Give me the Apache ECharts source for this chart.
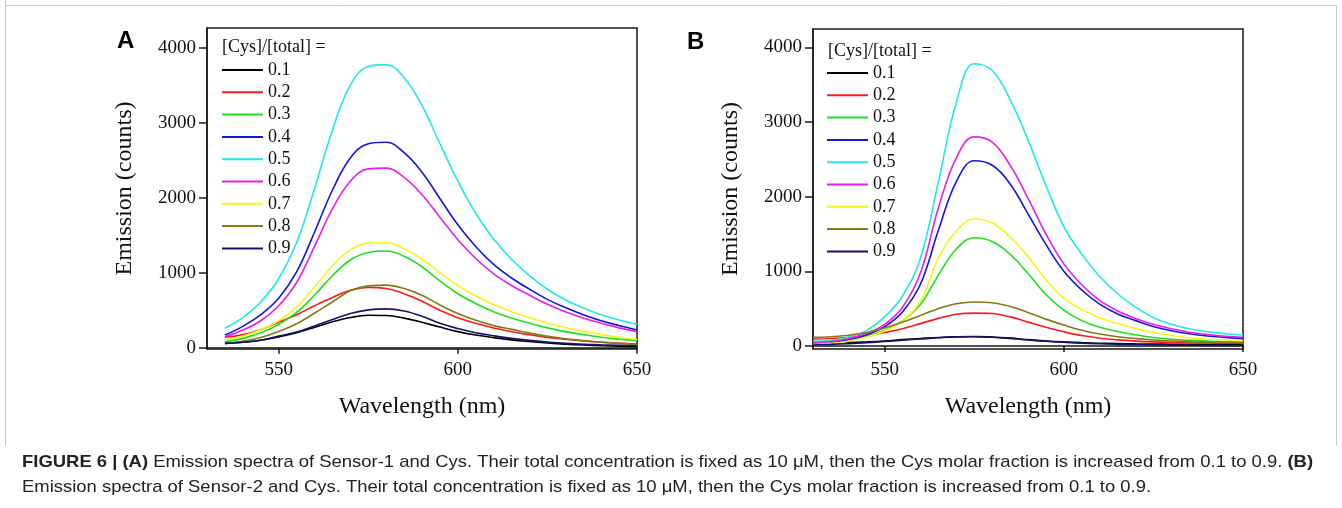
<!DOCTYPE html>
<html>
<head>
<meta charset="utf-8">
<script src="https://cdn.jsdelivr.net/npm/echarts@6/dist/echarts.min.js"></script>
<style>
html,body{margin:0;padding:0;background:#fff;}
#c{width:1342px;height:508px;}
</style>
</head>
<body>
<div id="c"></div>
<script>
// ---- data ----
const names = ['0.1','0.2','0.3','0.4','0.5','0.6','0.7','0.8','0.9'];
const colors = ['#000000','#ff1a1a','#1ee01e','#1414e0','#1ee8e8','#e61ee6','#f5f51a','#857a14','#141470'];
const xTicks = [550, 600, 650];
const yTicks = [0, 1000, 2000, 3000, 4000];

// Panel A (Sensor-1), wavelengths 535..650 nm
const wlA = [535,540,545,550,555,560,565,570,575,580,585,590,595,600,605,610,615,620,625,630,635,640,645,650];
const A01 = [58,72,100,145,200,270,345,402,433,430,395,340,275,215,170,135,105,82,62,48,36,27,19,13];
const A02 = [139,175,240,340,440,560,670,765,805,790,720,620,500,400,325,262,212,172,138,112,90,73,59,49];
const A03 = [80,125,200,310,470,700,960,1170,1270,1289,1220,1080,890,720,590,480,395,325,265,215,175,140,115,93];
const A04 = [170,285,440,660,1010,1540,2100,2530,2720,2740,2600,2340,1990,1640,1350,1110,930,780,645,535,440,360,295,236];
const A05 = [260,400,610,920,1400,2120,2900,3500,3750,3775,3600,3230,2720,2220,1790,1450,1180,960,780,640,530,440,370,310];
const A06 = [147,235,360,560,870,1350,1850,2220,2385,2395,2270,2040,1740,1440,1190,985,830,700,580,480,395,325,265,213];
const A07 = [103,155,240,360,540,810,1090,1305,1395,1400,1320,1180,1000,830,690,575,480,400,330,270,220,175,140,112];
const A08 = [58,85,135,215,320,460,610,760,825,835,790,700,570,455,365,295,245,195,155,120,95,75,58,45];
const A09 = [58,75,100,155,210,290,375,455,505,518,490,420,325,255,200,160,125,98,77,60,47,38,32,27];

// Panel B (Sensor-2), wavelengths 530..650 nm
const wlB = [530,535,540,545,550,555,560,565,570,575,580,585,590,595,600,605,610,615,620,625,630,635,640,645,650];
const B01 = [27,35,45,55,68,85,100,115,125,128,120,105,85,68,55,45,38,33,29,26,24,22,21,20,19];
const B02 = [90,100,115,140,180,230,300,370,425,440,435,390,320,250,190,140,105,82,66,55,48,43,40,38,36];
const B03 = [60,65,90,130,210,340,560,950,1300,1450,1400,1230,970,690,480,340,250,195,150,115,90,75,65,58,54];
const B04 = [30,45,80,150,260,460,830,1550,2200,2480,2420,2170,1770,1360,1000,750,560,430,340,260,205,165,135,115,98];
const B05 = [58,75,120,210,390,670,1180,2200,3260,3780,3690,3300,2760,2150,1600,1230,930,700,520,380,290,230,190,165,147];
const B06 = [45,60,100,170,290,520,980,1850,2520,2800,2730,2420,1980,1500,1100,820,610,470,370,290,230,185,155,130,116];
const B07 = [20,35,65,120,200,340,600,1180,1540,1700,1650,1460,1200,890,640,490,380,300,235,180,140,110,90,80,71];
const B08 = [116,125,145,180,240,320,410,500,565,590,580,530,450,360,280,210,160,125,100,80,68,58,52,48,45];
const B09 = [14,22,32,45,60,78,95,110,122,125,118,102,82,64,50,38,30,24,19,15,12,10,9,8,7];

const seriesA = [A01,A02,A03,A04,A05,A06,A07,A08,A09];
const seriesB = [B01,B02,B03,B04,B05,B06,B07,B08,B09];

// ---- chart ----
const serif = 'Liberation Serif, Times New Roman, serif';
const capFont = '"Liberation Sans", Arial, sans-serif';
const frameColor = '#1a1a1a';

function pairs(xs, ys){ return xs.map((x,i)=>[x, ys[i]]); }

function xAxisOpt(idx){
  return {
    type:'value', gridIndex: idx, min:530, max:650,
    name:'Wavelength (nm)', nameLocation:'middle', nameGap:46,
    nameTextStyle:{fontFamily:serif, fontSize:24, color:'#111'},
    axisLine:{show:true, lineStyle:{color:frameColor, width:1.5}},
    axisTick:{show:true, inside:false, length:6, customValues:xTicks, lineStyle:{color:frameColor, width:1.5}},
    axisLabel:{show:true, margin:12, fontFamily:serif, fontSize:19, color:'#111', customValues:xTicks,
      formatter:(v)=>String(v)},
    splitLine:{show:false}
  };
}
function yAxisOpt(idx, min, max){
  return {
    type:'value', gridIndex: idx, min:min, max:max,
    name:'Emission (counts)', nameLocation:'middle', nameGap:70,
    nameTextStyle:{fontFamily:serif, fontSize:24, color:'#111'},
    axisLine:{show:true, lineStyle:{color:frameColor, width:1.5}},
    axisTick:{show:true, inside:false, length:8, customValues:yTicks, lineStyle:{color:frameColor, width:1.5}},
    axisLabel:{show:true, margin:11, fontFamily:serif, fontSize:19, color:'#111', customValues:yTicks,
      formatter:(v)=>String(v)},
    splitLine:{show:false}
  };
}

const series = [];
seriesA.forEach((d,i)=>{
  series.push({type:'line', name:names[i], xAxisIndex:0, yAxisIndex:0, data:pairs(wlA,d),
    smooth:0.4, symbol:'none', lineStyle:{width:1.6, color:colors[i]}, itemStyle:{color:colors[i]}, z:2+i});
});
seriesB.forEach((d,i)=>{
  series.push({type:'line', name:names[i], xAxisIndex:1, yAxisIndex:1, data:pairs(wlB,d),
    smooth:0.4, symbol:'none', lineStyle:{width:1.6, color:colors[i]}, itemStyle:{color:colors[i]}, z:2+i});
});

function legendOpt(left, top){
  return {
    orient:'vertical', left:left, top:top, padding:0, itemGap:4.3,
    itemWidth:41, itemHeight:2, icon:'rect',
    textStyle:{fontFamily:serif, fontSize:18, color:'#111', lineHeight:17},
    data:names, selectedMode:false
  };
}

const chart = echarts.init(document.getElementById('c'), null, {renderer:'canvas'});
chart.setOption({
  backgroundColor:'#ffffff',
  animation:false,
  grid:[
    {left:207, top:28, width:430, height:321, show:true, borderColor:frameColor, borderWidth:1.5, backgroundColor:'transparent'},
    {left:813, top:29, width:430, height:320, show:true, borderColor:frameColor, borderWidth:1.5, backgroundColor:'transparent'}
  ],
  xAxis:[xAxisOpt(0), xAxisOpt(1)],
  yAxis:[yAxisOpt(0,-17,4263), yAxisOpt(1,-40,4245)],
  legend:[legendOpt(222,61), legendOpt(827,64)],
  series:series,
  graphic:[
    {type:'line', shape:{x1:5.5,y1:0,x2:5.5,y2:446}, style:{stroke:'#c8c8c8', lineWidth:1}, silent:true},
    {type:'line', shape:{x1:5.5,y1:5.5,x2:1336.5,y2:5.5}, style:{stroke:'#c8c8c8', lineWidth:1}, silent:true},
    {type:'line', shape:{x1:1336.5,y1:5.5,x2:1336.5,y2:446}, style:{stroke:'#c8c8c8', lineWidth:1}, silent:true},
    {type:'text', left:117, top:29, style:{text:'A', font:'bold 24px "Liberation Sans", Arial, sans-serif', fill:'#000'}},
    {type:'text', left:687, top:30, style:{text:'B', font:'bold 24px "Liberation Sans", Arial, sans-serif', fill:'#000'}},
    {type:'text', left:222, top:38, style:{text:'[Cys]/[total] =', font:'18px '+serif, fill:'#111'}},
    {type:'text', left:828, top:42, style:{text:'[Cys]/[total] =', font:'18px '+serif, fill:'#111'}},
    {type:'text', x:22, y:454, scaleX:1.085, style:{
      text:'{b|FIGURE 6 | (A)} Emission spectra of Sensor-1 and Cys. Their total concentration is fixed as 10 \u03bcM, then the Cys molar fraction is increased from 0.1 to 0.9. {b|(B)}',
      font:'17px '+capFont, fill:'#222', verticalAlign:'top', align:'left',
      rich:{b:{fontFamily:capFont, fontSize:17, fontWeight:'bold', fill:'#222'}}
    }},
    {type:'text', x:22, y:479, scaleX:1.085, style:{
      text:'Emission spectra of Sensor-2 and Cys. Their total concentration is fixed as 10 \u03bcM, then the Cys molar fraction is increased from 0.1 to 0.9.',
      font:'17px '+capFont, fill:'#222', verticalAlign:'top', align:'left'
    }}
  ]
});
</script>
</body>
</html>
